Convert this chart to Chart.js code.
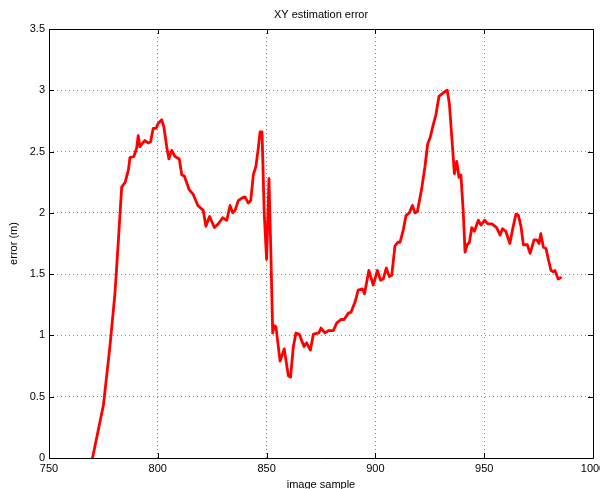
<!DOCTYPE html>
<html>
<head>
<meta charset="utf-8">
<script src="https://cdn.jsdelivr.net/npm/chart.js@4.4.1/dist/chart.umd.min.js"></script>
<style>
html,body{margin:0;padding:0;background:#fff;}
#wrap{position:relative;width:600px;height:489px;}
</style>
</head>
<body>
<div id="wrap"><canvas id="c"></canvas></div>
<script>
const chartTitle = "XY estimation error";
const xAxisLabel = "image sample";
const yAxisLabel = "error (m)";
const xTickValues = [750, 800, 850, 900, 950, 1000];
const xTickLabels = ["750", "800", "850", "900", "950", "1000"];
const yTickValues = [0, 0.5, 1, 1.5, 2, 2.5, 3, 3.5];
const yTickLabels = ["0", "0.5", "1", "1.5", "2", "2.5", "3", "3.5"];

const sampleX = [
770.0,775.0,778.0,780.3,781.9,783.4,785.0,786.5,787.2,789.0,790.3,791.0,791.8,793.0,794.1,795.6,796.7,797.9,799.2,800.2,
801.8,802.8,804.1,805.1,806.4,807.9,809.9,811.0,812.2,814.4,816.3,818.4,820.9,822.1,823.8,826.0,827.8,829.8,831.7,833.2,
834.4,835.5,837.0,838.6,840.1,841.6,842.7,843.9,845.1,846.2,847.0,847.9,848.9,850.0,851.1,851.9,852.8,853.5,854.3,856.2,
858.1,860.0,861.0,862.3,863.5,865.0,867.2,868.4,870.1,871.5,874.0,875.0,876.8,878.4,880.7,882.2,884.2,885.6,887.5,888.8,
890.6,892.1,894.0,895.0,897.0,899.0,900.9,902.4,903.6,905.0,906.4,907.5,909.0,910.3,911.3,912.8,914.1,915.6,917.0,918.2,
919.3,921.3,922.8,924.0,925.1,926.6,927.8,929.2,931.2,933.0,934.0,935.3,936.3,937.4,938.4,939.3,940.4,941.2,942.2,943.2,
944.3,945.5,947.3,948.5,950.2,951.7,953.6,955.7,957.3,958.4,959.9,961.8,963.1,964.6,965.7,966.9,968.0,969.8,971.1,972.9,
974.1,975.2,976.0,977.2,978.4,979.5,980.7,981.8,982.5,984.0,985.1
];
const errorY = [
0.00,0.43,0.91,1.34,1.78,2.21,2.25,2.35,2.45,2.46,2.53,2.63,2.54,2.57,2.59,2.57,2.58,2.69,2.69,2.73,
2.76,2.70,2.54,2.44,2.51,2.46,2.44,2.31,2.30,2.19,2.15,2.06,2.02,1.89,1.97,1.88,1.91,1.96,1.94,2.06,
2.00,2.02,2.10,2.12,2.13,2.08,2.10,2.31,2.38,2.53,2.66,2.66,2.00,1.62,2.28,1.72,1.02,1.08,1.07,0.79,
0.89,0.67,0.66,0.91,1.02,1.01,0.91,0.94,0.88,1.01,1.02,1.06,1.02,1.04,1.04,1.10,1.13,1.13,1.18,1.19,
1.27,1.37,1.38,1.34,1.53,1.41,1.53,1.45,1.46,1.55,1.48,1.49,1.73,1.76,1.76,1.86,1.98,2.00,2.06,2.00,
2.01,2.20,2.38,2.56,2.61,2.72,2.80,2.95,2.98,3.00,2.89,2.57,2.32,2.42,2.29,2.31,2.00,1.68,1.74,1.76,
1.88,1.85,1.94,1.90,1.94,1.91,1.91,1.88,1.82,1.87,1.85,1.75,1.87,1.99,1.98,1.89,1.74,1.74,1.67,1.78,
1.78,1.75,1.83,1.72,1.71,1.62,1.53,1.52,1.53,1.46,1.47
];

const FONT = "'Liberation Sans', Arial, Helvetica, sans-serif";

const matlabAxes = {
  id: 'matlabAxes',
  afterDatasetsDraw(chart) {
    const ctx = chart.ctx, a = chart.chartArea;
    const xs = chart.scales.x, ys = chart.scales.y;
    ctx.save();
    ctx.strokeStyle = '#000';
    ctx.lineWidth = 1;
    ctx.beginPath();
    ctx.rect(Math.round(a.left) + 0.5, Math.round(a.top) + 0.5, Math.round(a.right - a.left), Math.round(a.bottom - a.top));
    ctx.stroke();
    const L = 5;
    ctx.beginPath();
    xTickValues.forEach(v => {
      const px = Math.round(xs.getPixelForValue(v)) + 0.5;
      ctx.moveTo(px, a.bottom); ctx.lineTo(px, a.bottom - L);
      ctx.moveTo(px, a.top); ctx.lineTo(px, a.top + L);
    });
    yTickValues.forEach(v => {
      const py = Math.round(ys.getPixelForValue(v)) + 0.5;
      ctx.moveTo(a.left, py); ctx.lineTo(a.left + L, py);
      ctx.moveTo(a.right, py); ctx.lineTo(a.right - L, py);
    });
    ctx.stroke();
    ctx.fillStyle = '#000';
    ctx.font = '11px ' + FONT;
    ctx.textAlign = 'center';
    ctx.textBaseline = 'middle';
    ctx.fillText(chartTitle, (a.left + a.right) / 2, 15);
    ctx.restore();
  }
};

new Chart(document.getElementById('c'), {
  type: 'line',
  data: {
    datasets: [{
      data: sampleX.map((x, i) => ({ x: x, y: errorY[i] })),
      borderColor: '#ff0000',
      borderWidth: 2.8,
      borderJoinStyle: 'round',
      borderCapStyle: 'round',
      pointRadius: 0,
      tension: 0,
      fill: false
    }]
  },
  plugins: [matlabAxes],
  options: {
    responsive: true,
    maintainAspectRatio: false,
    animation: false,
    devicePixelRatio: 1,
    layout: { padding: { top: 29, right: 7, left: 0, bottom: 0 } },
    plugins: { legend: { display: false }, tooltip: { enabled: false }, title: { display: false } },
    scales: {
      x: {
        type: 'linear',
        min: 750, max: 1000,
        afterBuildTicks(s) { s.ticks = xTickValues.map(v => ({ value: v })); },
        afterFit(s) { s.height = 31; s.paddingLeft = 0; s.paddingRight = 0; },
        ticks: {
          color: '#000', font: { family: FONT, size: 11 }, padding: 4, maxRotation: 0, autoSkip: false,
          callback: (v) => { const i = xTickValues.indexOf(v); return i >= 0 ? xTickLabels[i] : ''; }
        },
        grid: { color: '#888', lineWidth: 1, drawTicks: false },
        border: { display: false, dash: [1, 3] },
        title: { display: true, text: xAxisLabel, color: '#000', font: { family: FONT, size: 11 }, padding: { top: 0, bottom: -2.5 } }
      },
      y: {
        type: 'linear',
        min: 0, max: 3.5,
        afterBuildTicks(s) { s.ticks = yTickValues.map(v => ({ value: v })); },
        afterFit(s) { s.width = 49; s.paddingTop = 0; s.paddingBottom = 0; },
        ticks: {
          color: '#000', font: { family: FONT, size: 11 }, padding: 4, autoSkip: false,
          callback: (v) => { const i = yTickValues.indexOf(v); return i >= 0 ? yTickLabels[i] : ''; }
        },
        grid: { color: '#888', lineWidth: 1, drawTicks: false },
        border: { display: false, dash: [1, 3] },
        title: { display: true, text: yAxisLabel, color: '#000', font: { family: FONT, size: 11 }, padding: { top: 7, bottom: 0 } }
      }
    }
  }
});
</script>
</body>
</html>
